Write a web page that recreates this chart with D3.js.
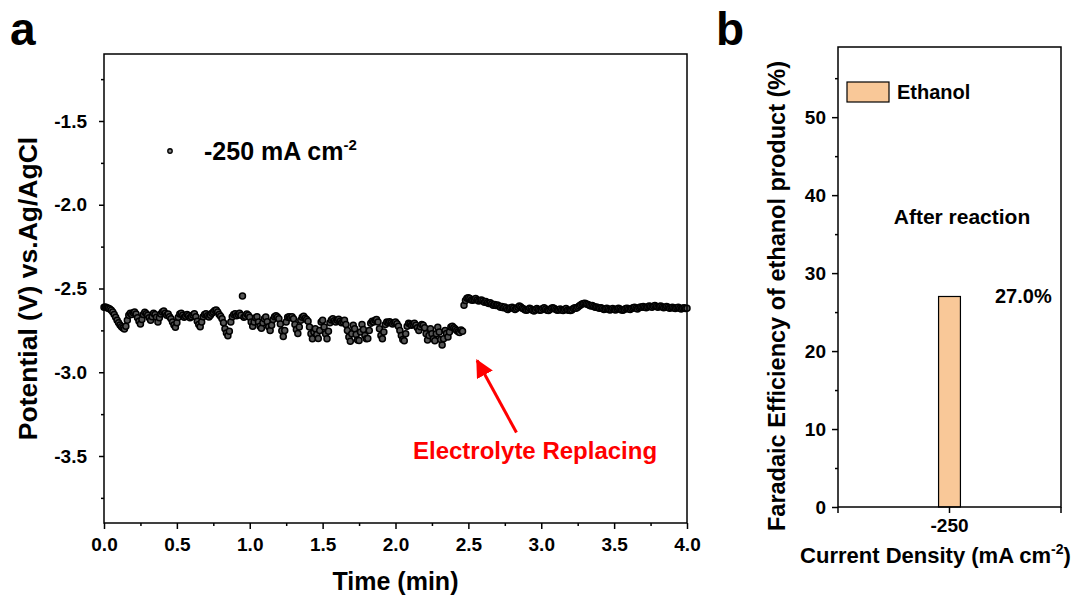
<!DOCTYPE html>
<html>
<head>
<meta charset="utf-8">
<script src="https://cdn.jsdelivr.net/npm/d3@7"></script>
<style>
  body { margin: 0; background: #fff; }
  svg text { font-family: 'Liberation Sans', Arial, sans-serif; font-weight: bold; fill: #000; }
</style>
</head>
<body>
<svg id="chart" width="1077" height="598"></svg>
<script>
// panel a: chronopotentiometry at -250 mA cm-2, one reading every 0.01 min
const sampleStep = 0.01;
const potential = [
  -2.612, -2.610, -2.615, -2.618, -2.622, -2.630, -2.640, -2.655, -2.672, -2.690,
  -2.705, -2.718, -2.728, -2.736, -2.742, -2.725, -2.690, -2.660, -2.648, -2.655,
  -2.645, -2.640, -2.652, -2.675, -2.695, -2.712, -2.685, -2.655, -2.642, -2.650,
  -2.660, -2.675, -2.690, -2.668, -2.648, -2.655, -2.672, -2.700, -2.675, -2.652,
  -2.640, -2.635, -2.648, -2.660, -2.652, -2.668, -2.680, -2.700, -2.718, -2.732,
  -2.705, -2.672, -2.652, -2.648, -2.660, -2.672, -2.665, -2.655, -2.662, -2.675,
  -2.668, -2.658, -2.650, -2.668, -2.695, -2.715, -2.728, -2.700, -2.668, -2.655,
  -2.650, -2.662, -2.670, -2.660, -2.648, -2.640, -2.632, -2.628, -2.640, -2.655,
  -2.665, -2.680, -2.705, -2.740, -2.765, -2.782, -2.755, -2.700, -2.668, -2.655,
  -2.650, -2.662, -2.655, -2.648, -2.660, -2.545, -2.672, -2.665, -2.652, -2.660,
  -2.672, -2.700, -2.726, -2.700, -2.675, -2.668, -2.700, -2.725, -2.738, -2.705,
  -2.680, -2.670, -2.698, -2.728, -2.750, -2.720, -2.685, -2.668, -2.662, -2.670,
  -2.680, -2.712, -2.752, -2.786, -2.750, -2.700, -2.672, -2.668, -2.675, -2.668,
  -2.680, -2.715, -2.745, -2.768, -2.730, -2.690, -2.672, -2.665, -2.678, -2.685,
  -2.695, -2.730, -2.770, -2.800, -2.760, -2.740, -2.775, -2.798, -2.750, -2.700,
  -2.690, -2.730, -2.770, -2.800, -2.755, -2.705, -2.688, -2.680, -2.692, -2.700,
  -2.690, -2.684, -2.695, -2.705, -2.698, -2.690, -2.715, -2.750, -2.790, -2.815,
  -2.770, -2.720, -2.740, -2.775, -2.808, -2.810, -2.760, -2.715, -2.745, -2.780,
  -2.800, -2.798, -2.750, -2.708, -2.695, -2.700, -2.690, -2.685, -2.700, -2.740,
  -2.780, -2.800, -2.760, -2.715, -2.700, -2.705, -2.698, -2.705, -2.712, -2.705,
  -2.700, -2.710, -2.725, -2.750, -2.780, -2.805, -2.812, -2.770, -2.725, -2.708,
  -2.712, -2.720, -2.715, -2.708, -2.720, -2.735, -2.750, -2.728, -2.715, -2.720,
  -2.735, -2.770, -2.808, -2.780, -2.740, -2.770, -2.800, -2.812, -2.770, -2.732,
  -2.760, -2.805, -2.838, -2.800, -2.750, -2.768, -2.790, -2.760, -2.730, -2.725,
  -2.735, -2.742, -2.750, -2.758, -2.762, -2.748, -2.755, -2.600, -2.572, -2.558,
  -2.555, -2.560, -2.568, -2.570, -2.565, -2.560, -2.568, -2.575, -2.572, -2.568,
  -2.575, -2.582, -2.578, -2.585, -2.590, -2.585, -2.592, -2.600, -2.595, -2.602,
  -2.598, -2.605, -2.612, -2.608, -2.615, -2.610, -2.618, -2.625, -2.620, -2.615,
  -2.612, -2.618, -2.625, -2.620, -2.612, -2.605, -2.610, -2.618, -2.622, -2.628,
  -2.630, -2.625, -2.618, -2.622, -2.630, -2.635, -2.628, -2.620, -2.625, -2.630,
  -2.628, -2.620, -2.615, -2.622, -2.630, -2.632, -2.625, -2.618, -2.615, -2.620,
  -2.625, -2.630, -2.628, -2.622, -2.628, -2.632, -2.625, -2.620, -2.628, -2.630,
  -2.632, -2.628, -2.620, -2.615, -2.618, -2.612, -2.605, -2.598, -2.592, -2.590,
  -2.588, -2.592, -2.595, -2.600, -2.605, -2.602, -2.608, -2.612, -2.610, -2.615,
  -2.618, -2.615, -2.620, -2.625, -2.622, -2.618, -2.622, -2.628, -2.625, -2.620,
  -2.625, -2.628, -2.622, -2.618, -2.622, -2.628, -2.630, -2.625, -2.620, -2.618,
  -2.622, -2.625, -2.620, -2.615, -2.612, -2.618, -2.622, -2.615, -2.610, -2.612,
  -2.608, -2.612, -2.615, -2.610, -2.605, -2.608, -2.612, -2.606, -2.602, -2.608,
  -2.612, -2.608, -2.604, -2.610, -2.615, -2.612, -2.608, -2.612, -2.618, -2.615,
  -2.612, -2.616, -2.620, -2.615, -2.612, -2.618, -2.622, -2.618, -2.615, -2.620,
  -2.618
];
const timeTicks = [0, 0.5, 1.0, 1.5, 2.0, 2.5, 3.0, 3.5, 4.0];
const timeMinor = [0.25, 0.75, 1.25, 1.75, 2.25, 2.75, 3.25, 3.75];
const potentialTicks = [-1.5, -2.0, -2.5, -3.0, -3.5];
const potentialMinor = [-1.25, -1.75, -2.25, -2.75, -3.25, -3.75];

// panel b: faradaic efficiency
const feCategories = ['-250'];
const feValues = [27.0];
const feTicks = [0, 10, 20, 30, 40, 50];
const feMinor = [5, 15, 25, 35, 45, 55];

const barColor = '#F9C898';
const oneDecimal = d => d.toFixed(1);   // plain hyphen minus, as in the figure
const svg = d3.select('#chart');

function styleAxis(g) {
    g.select('.domain').remove();
    g.selectAll('line').attr('stroke', '#000').attr('stroke-width', 1.5);
    g.selectAll('text').attr('font-size', 19).attr('font-family', null);
}

function frame(x0, x1, y0, y1) {
    svg.append('rect')
        .attr('x', x0).attr('y', y0)
        .attr('width', x1 - x0).attr('height', y1 - y0)
        .attr('fill', 'none').attr('stroke', '#000').attr('stroke-width', 1.5);
}

// ---------- panel a ----------
const xA = d3.scaleLinear().domain([0, 4]).range([104, 687]);
const yA = d3.scaleLinear().domain([-3.9, -1.1]).range([523, 54]);

const series = potential.map((v, i) => ({ t: i * sampleStep, v: v }));

svg.append('g')
    .attr('transform', `translate(0,${yA.range()[0]})`)
    .call(d3.axisBottom(xA).tickValues(timeTicks).tickSize(6).tickPadding(9).tickFormat(oneDecimal))
    .call(styleAxis);
svg.append('g')
    .attr('transform', `translate(0,${yA.range()[0]})`)
    .call(d3.axisBottom(xA).tickValues(timeMinor).tickSize(3).tickFormat(''))
    .call(styleAxis);
svg.append('g')
    .attr('transform', `translate(${xA.range()[0]},0)`)
    .call(d3.axisLeft(yA).tickValues(potentialTicks).tickSize(5).tickPadding(12).tickFormat(oneDecimal))
    .call(styleAxis);
svg.append('g')
    .attr('transform', `translate(${xA.range()[0]},0)`)
    .call(d3.axisLeft(yA).tickValues(potentialMinor).tickSize(3).tickFormat(''))
    .call(styleAxis);

svg.append('g').selectAll('circle')
    .data(series)
    .enter()
    .append('circle')
    .attr('cx', d => xA(d.t))
    .attr('cy', d => yA(d.v))
    .attr('r', 3)
    .attr('fill', '#555')
    .attr('stroke', '#000')
    .attr('stroke-width', 1.5);

frame(xA.range()[0], xA.range()[1], yA.range()[1], yA.range()[0]);

// legend a
svg.append('circle').attr('cx', 170).attr('cy', 151).attr('r', 2.2)
    .attr('fill', '#888').attr('stroke', '#000').attr('stroke-width', 1.4);
const legA = svg.append('text').attr('x', 204).attr('y', 160).attr('font-size', 25);
legA.append('tspan').text('-250 mA cm');
legA.append('tspan').attr('font-size', 15).attr('dy', -10).text('-2');

// annotation
svg.append('defs').append('marker')
    .attr('id', 'head').attr('viewBox', '0 0 10 10')
    .attr('refX', 9).attr('refY', 5)
    .attr('markerWidth', 6).attr('markerHeight', 6)
    .attr('markerUnits', 'strokeWidth')
    .attr('orient', 'auto')
    .append('path').attr('d', 'M0,0 L10,5 L0,10 Z').attr('fill', '#f00');
svg.append('line')
    .attr('x1', xA(2.83)).attr('y1', yA(-3.36))
    .attr('x2', xA(2.56)).attr('y2', yA(-2.93))
    .attr('stroke', '#f00').attr('stroke-width', 3)
    .attr('marker-end', 'url(#head)');
svg.append('text')
    .attr('x', 413).attr('y', 459).attr('font-size', 24)
    .style('fill', '#f00')
    .text('Electrolyte Replacing');

svg.append('text')
    .attr('x', (xA.range()[0] + xA.range()[1]) / 2).attr('y', 590)
    .attr('text-anchor', 'middle').attr('font-size', 25)
    .text('Time (min)');
svg.append('text')
    .attr('transform', `translate(37,${(yA.range()[0] + yA.range()[1]) / 2}) rotate(-90)`)
    .attr('text-anchor', 'middle').attr('font-size', 26.5)
    .text('Potential (V) vs.Ag/AgCl');

svg.append('text').attr('x', 10).attr('y', 45).attr('font-size', 46).text('a');

// ---------- panel b ----------
const xB = d3.scaleBand().domain(feCategories).range([838, 1061]).paddingInner(0).paddingOuter(4.6);
const yB = d3.scaleLinear().domain([0, 59]).range([507, 47]);

svg.append('g')
    .attr('transform', `translate(0,${yB.range()[0]})`)
    .call(d3.axisBottom(xB).tickSize(6).tickPadding(6))
    .call(styleAxis);
svg.append('g')
    .attr('transform', `translate(0,${yB.range()[0]})`)
    .selectAll('line')
    .data(xB.range())
    .enter()
    .append('line')
    .attr('x1', d => d).attr('x2', d => d)
    .attr('y1', 0).attr('y2', 6)
    .attr('stroke', '#000').attr('stroke-width', 1.5);
svg.append('g')
    .attr('transform', `translate(${xB.range()[0]},0)`)
    .call(d3.axisLeft(yB).tickValues(feTicks).tickSize(6).tickPadding(6))
    .call(styleAxis);
svg.append('g')
    .attr('transform', `translate(${xB.range()[0]},0)`)
    .call(d3.axisLeft(yB).tickValues(feMinor).tickSize(3).tickFormat(''))
    .call(styleAxis);

svg.append('g').selectAll('rect')
    .data(feValues)
    .enter()
    .append('rect')
    .attr('x', (d, i) => xB(feCategories[i]))
    .attr('y', d => yB(d))
    .attr('width', xB.bandwidth())
    .attr('height', d => yB(0) - yB(d))
    .attr('fill', barColor)
    .attr('stroke', '#000')
    .attr('stroke-width', 1.2);

svg.append('g').selectAll('text')
    .data(feValues)
    .enter()
    .append('text')
    .attr('x', 995).attr('y', d => yB(d) + 7)
    .attr('font-size', 20)
    .text(d => d.toFixed(1) + '%');

frame(xB.range()[0], xB.range()[1], yB.range()[1], yB.range()[0]);

// legend b
svg.append('rect').attr('x', 847).attr('y', 82).attr('width', 42).attr('height', 20)
    .attr('fill', barColor).attr('stroke', '#000').attr('stroke-width', 1.2);
svg.append('text').attr('x', 897).attr('y', 99).attr('font-size', 20).text('Ethanol');

svg.append('text').attr('x', 962).attr('y', 224).attr('text-anchor', 'middle')
    .attr('font-size', 21).text('After reaction');

const xtB = svg.append('text')
    .attr('x', (xB.range()[0] + xB.range()[1]) / 2 - 14).attr('y', 563)
    .attr('text-anchor', 'middle').attr('font-size', 22);
xtB.append('tspan').text('Current Density (mA cm');
xtB.append('tspan').attr('font-size', 14).attr('dy', -9).text('-2');
xtB.append('tspan').attr('dy', 9).text(')');

svg.append('text')
    .attr('transform', 'translate(785,296) rotate(-90)')
    .attr('text-anchor', 'middle').attr('font-size', 23.5)
    .text('Faradaic Efficiency of ethanol product (%)');

svg.append('text').attr('x', 716).attr('y', 45).attr('font-size', 46).text('b');
</script>
</body>
</html>
